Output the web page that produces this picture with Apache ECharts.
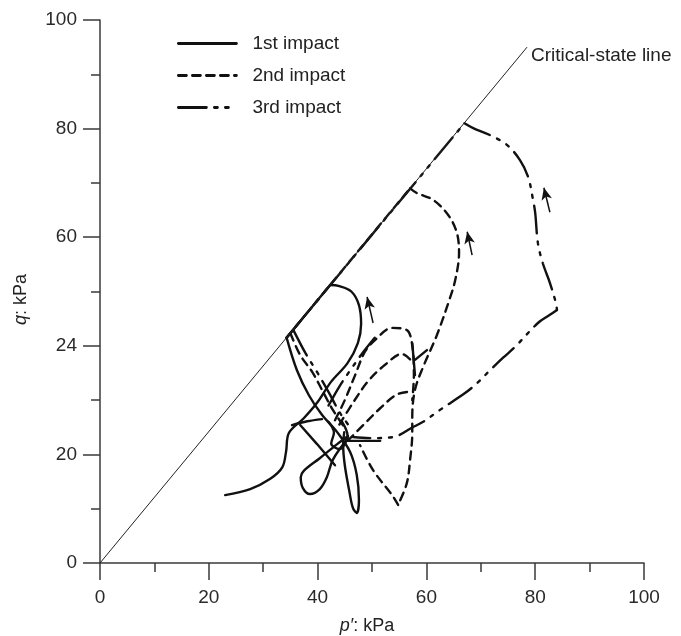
<!DOCTYPE html>
<html>
<head>
<meta charset="utf-8">
<script src="https://cdn.jsdelivr.net/npm/echarts@6/dist/echarts.min.js"></script>
<style>
  html, body { margin: 0; padding: 0; background: #fff; }
  #main { width: 681px; height: 636px; }
</style>
</head>
<body>
<div id="main"></div>
<script>
// tick labels (the original figure prints "24" at the 40 mark)
const xTickLabels = ['0', '20', '40', '60', '80', '100'];
const yTickLabels = ['0', '20', '24', '60', '80', '100'];

// critical-state line, p' vs q
const cslLine = [[0, 0], [78.5, 95]];

// 1st impact (solid)
const firstLoop = [[23.0, 12.5], [27.6, 13.6], [31.3, 15.5], [33.5, 17.6], [34.2, 20.5], [34.7, 23.9],
  [37.5, 26.7], [39.9, 29.5], [42.5, 33.4], [45.5, 36.8], [47.4, 40.5], [48.0, 44.0], [47.6, 47.5],
  [46.2, 50.0], [44.0, 51.0], [42.3, 51.2]];
const firstOnCsl = [[42.3, 51.2], [34.3, 41.5]];
const firstDrop = [[34.3, 41.5], [36.2, 35.5], [38.4, 30.9], [40.8, 27.3], [43.6, 24.1], [46.0, 20.4],
  [47.2, 16.2], [47.6, 11.6], [47.2, 9.2], [46.5, 10.1], [45.8, 13.4], [45.0, 18.0], [44.7, 21.7], [44.9, 24.1]];
const firstU = [[45.6, 23.0], [42.8, 19.0], [41.7, 15.8], [40.4, 13.6], [38.6, 12.7], [37.3, 13.8],
  [36.9, 15.8], [37.5, 17.0], [40.4, 19.3], [43.6, 21.9], [45.6, 23.4]];
const firstRoof = [[35.3, 25.4], [38.1, 26.1], [40.8, 26.5]];
const firstCross = [[36.8, 25.4], [39.9, 21.9], [43.2, 18.0]];
const firstFlat = [[45.5, 22.5], [51.5, 22.5]];
const firstVert = [[57.4, 40.5], [57.9, 34.6]];
const firstBranch = [[57.9, 37.4], [60.1, 39.2]];
const firstKnot = [[42.0, 26.0], [43.0, 24.0], [42.5, 22.0], [44.0, 21.0], [45.5, 23.5], [44.5, 26.0]];

// 2nd impact (dashed)
const secondOnCsl = [[34.3, 41.5], [57.0, 69.0]];
const secondLoop = [[57.0, 69.0], [58.3, 68.1], [61.2, 66.9], [64.0, 64.1], [65.6, 60.8], [66.0, 57.1],
  [65.3, 52.1], [64.2, 48.4], [61.9, 41.9], [59.4, 36.1], [57.9, 31.9], [57.4, 26.9], [57.4, 23.9],
  [57.0, 19.0], [56.4, 14.7], [54.8, 10.7]];
const secondBack = [[54.8, 10.7], [53.7, 12.5], [50.2, 17.1], [47.8, 21.7]];
const secondDiag = [[35.0, 42.3], [36.8, 38.3], [39.0, 35.2], [40.8, 31.9], [42.8, 28.2], [45.0, 24.9]];
const secondSmall = [[43.2, 26.3], [45.0, 30.0], [46.9, 34.6], [48.7, 38.9], [50.6, 41.1], [53.7, 43.3],
  [56.4, 42.9], [57.4, 40.1], [57.7, 34.6], [57.4, 30.0]];
const secondInner1 = [[44.0, 25.5], [46.5, 29.5], [49.3, 33.5], [52.4, 36.5], [55.5, 38.5], [57.0, 37.5]];
const secondInner2 = [[45.5, 22.5], [48.5, 25.5], [51.5, 28.5], [54.5, 31.0], [56.5, 31.5]];

// 3rd impact (dash-dot)
const thirdOnCsl = [[34.3, 41.5], [67.0, 81.0]];
const thirdLoop = [[67.0, 81.0], [68.6, 80.1], [71.7, 78.8], [74.8, 77.0], [77.2, 74.2], [78.7, 71.1],
  [79.6, 66.9], [80.0, 64.5], [80.5, 58.9], [81.4, 55.2], [82.7, 51.6], [83.8, 47.9], [84.0, 46.6]];
const thirdReturn = [[84.0, 46.6], [82.7, 45.7], [80.5, 44.2], [76.3, 39.8], [74.1, 37.8], [71.7, 35.5],
  [69.3, 33.1], [67.1, 31.3], [62.5, 28.2], [59.4, 26.0], [57.5, 25.0], [53.9, 23.2], [50.0, 23.0], [46.5, 23.2]];
const thirdDiag = [[35.6, 42.8], [37.8, 38.6], [40.0, 35.0], [42.0, 31.5], [44.2, 27.5], [46.0, 25.0]];
const thirdRise = [[42.0, 29.0], [44.0, 32.5], [46.0, 35.5], [48.5, 39.0], [50.5, 41.5]];

// direction arrows [tail, head]
const arrows = [
  [[50.2, 44.2], [49.1, 49.0]],
  [[68.4, 56.7], [67.5, 61.0]],
  [[82.7, 64.6], [81.6, 69.1]]
];

const FONT = '"Liberation Sans", Arial, sans-serif';
const INK = '#111';
const dashTypes = {
  solid: 'solid',
  dashed: [8, 6],
  dashdot: [28, 8, 3, 8, 3, 8]
};

function seg(name, data, kind, smooth) {
  return {
    type: 'line',
    name: name,
    data: data,
    symbol: 'none',
    showSymbol: false,
    smooth: smooth ? 0.35 : false,
    silent: true,
    lineStyle: { color: INK, width: 2.4, type: dashTypes[kind], cap: 'round' },
    itemStyle: { color: INK }
  };
}

const chart = echarts.init(document.getElementById('main'));

const series = [
  seg('1st impact', firstLoop, 'solid', true),
  seg('2nd impact', secondLoop, 'dashed', true),
  seg('3rd impact', thirdLoop, 'dashdot', true),
  seg('1st impact', firstOnCsl, 'solid', false),
  seg('1st impact', firstDrop, 'solid', true),
  seg('1st impact', firstU, 'solid', true),
  seg('1st impact', firstRoof, 'solid', true),
  seg('1st impact', firstCross, 'solid', false),
  seg('1st impact', firstFlat, 'solid', false),
  seg('1st impact', firstVert, 'solid', false),
  seg('1st impact', firstBranch, 'solid', false),
  seg('1st impact', firstKnot, 'solid', true),
  seg('2nd impact', secondOnCsl, 'dashed', false),
  seg('2nd impact', secondBack, 'dashed', true),
  seg('2nd impact', secondDiag, 'dashed', true),
  seg('2nd impact', secondSmall, 'dashed', true),
  seg('2nd impact', secondInner1, 'dashed', true),
  seg('2nd impact', secondInner2, 'dashed', true),
  seg('3rd impact', thirdOnCsl, 'dashdot', false),
  seg('3rd impact', thirdReturn, 'dashdot', true),
  seg('3rd impact', thirdDiag, 'dashdot', true),
  seg('3rd impact', thirdRise, 'dashdot', true),
  {
    type: 'line',
    name: 'Critical-state line',
    data: cslLine,
    symbol: 'none',
    silent: true,
    lineStyle: { color: '#222', width: 1 },
    endLabel: {
      show: true,
      formatter: 'Critical-state line',
      color: '#222',
      fontFamily: FONT,
      fontSize: 19,
      distance: 4,
      offset: [0, 9]
    },
    markLine: {
      silent: true,
      symbol: ['none', 'arrow'],
      symbolSize: [8, 12],
      label: { show: false },
      lineStyle: { color: INK, width: 1.5, type: 'solid' },
      data: arrows.map(a => [{ coord: a[0] }, { coord: a[1] }])
    }
  }
];

const axisCommon = {
  type: 'value',
  min: 0,
  max: 100,
  interval: 20,
  axisLine: { show: true, lineStyle: { color: '#3a3a3a', width: 1.5 } },
  axisTick: { show: true, inside: false, length: 17, lineStyle: { color: '#3a3a3a', width: 1.5 } },
  minorTick: { show: true, splitNumber: 2, length: 9, lineStyle: { color: '#3a3a3a', width: 1.5 } },
  splitLine: { show: false }
};

const nameRich = { i: { fontStyle: 'italic', fontFamily: FONT, fontSize: 18, color: '#222' } };

chart.setOption({
  animation: false,
  backgroundColor: '#fff',
  grid: { left: 100, right: 37, top: 20, bottom: 73, outerBoundsMode: 'none' },
  legend: {
    data: ['1st impact', '2nd impact', '3rd impact'],
    orient: 'vertical',
    left: 172,
    top: 29,
    itemWidth: 58,
    itemHeight: 20,
    itemGap: 13,
    selectedMode: false,
    lineStyle: { width: 2.8 },
    itemStyle: { opacity: 0 },
    textStyle: { color: '#222', fontFamily: FONT, fontSize: 19, padding: [0, 0, 0, 11] }
  },
  xAxis: Object.assign({}, axisCommon, {
    name: '{i|p′}: kPa',
    nameLocation: 'middle',
    nameGap: 54,
    nameTextStyle: {
      color: '#222', fontFamily: FONT, fontSize: 18, padding: [0, 10, 0, 0], rich: nameRich
    },
    axisLabel: {
      color: '#2a2a2a', fontFamily: FONT, fontSize: 19, margin: 25,
      formatter: v => xTickLabels[Math.round(v / 20)]
    }
  }),
  yAxis: Object.assign({}, axisCommon, {
    name: '{i|q}: kPa',
    nameLocation: 'middle',
    nameGap: 70,
    nameRotate: 90,
    nameTextStyle: {
      color: '#222', fontFamily: FONT, fontSize: 18, padding: [0, 16, 0, 0], rich: nameRich
    },
    axisLabel: {
      color: '#2a2a2a', fontFamily: FONT, fontSize: 19, margin: 23,
      formatter: v => yTickLabels[Math.round(v / 20)]
    }
  }),
  series: series
});
</script>
</body>
</html>
